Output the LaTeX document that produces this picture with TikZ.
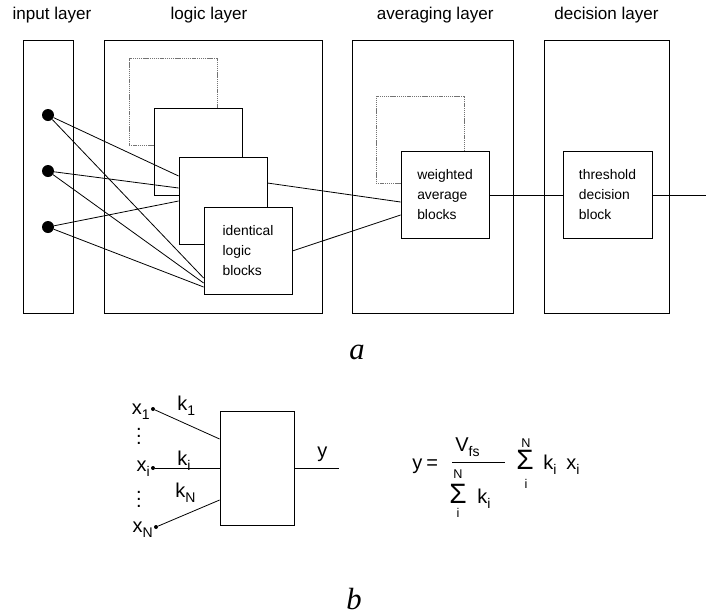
\documentclass[tikz,border=0pt]{standalone}
\usepackage{fontspec}
\setmainfont{Liberation Sans}
\newfontfamily\capfont{Liberation Serif}
\usetikzlibrary{positioning}

\newcommand{\lowidx}[1]{\raisebox{-4pt}{\fontsize{10.5}{11}\selectfont #1}}
\newcommand{\vdotsx}{\vbox{\baselineskip=5.25pt\lineskiplimit=0pt\hbox{.}\hbox{.}\hbox{.}}}

\begin{document}
\begin{tikzpicture}[
    x=0.75pt, y=-0.75pt,
    layer/.style={draw, line width=0.6pt, minimum height=204.75pt, inner sep=0pt},
    ttl/.style={font=\fontsize{12.8}{14}\selectfont, inner sep=0pt},
    blk/.style={draw, fill=white, line width=0.6pt, minimum width=66pt, minimum height=65.25pt, align=left, font=\fontsize{10.4}{15}\selectfont},
    ghost/.style={blk, draw=black!55, dash pattern=on 1pt off 0.6pt, fill=none},
    cell/.style={draw, line width=0.6pt, minimum width=55.5pt, minimum height=85.5pt, inner sep=0pt},
    pin/.style={circle, fill=black, minimum size=9pt, inner sep=0pt},
    tip/.style={circle, fill=black, minimum size=3pt, inner sep=0pt},
    lbl/.style={font=\fontsize{15}{15}\selectfont, inner sep=0pt},
    sig/.style={font=\fontsize{21}{21}\selectfont, inner sep=0pt},
    lim/.style={font=\fontsize{9.5}{10}\selectfont, inner sep=0pt},
    wire/.style={line width=0.6pt},
    capn/.style={font=\capfont\itshape\fontsize{23}{23}\selectfont, inner sep=0pt}
]
    \useasboundingbox (0,0) rectangle (706,615);

    % Layers
    \node[layer, minimum width=37.5pt] (inp) at (48,176.5) {};
    \node[layer, minimum width=163.5pt] (logic) at (213,176.5) {};
    \node[layer, minimum width=120.75pt] (avg) at (432.5,176.5) {};
    \node[layer, minimum width=93.75pt] (dec) at (606.5,176.5) {};

    % Layer titles
    \node[ttl, above=12pt of inp, xshift=3pt] (tinp) {input layer};
    \node[ttl, above=12pt of logic, xshift=-3pt] (tlogic) {logic layer};
    \node[ttl, above=12pt of avg, xshift=2pt] (tavg) {averaging layer};
    \node[ttl, above=12pt of dec] (tdec) {decision layer};

    % Inputs
    \foreach \i/\y in {1/115, 2/171, 3/227}
        \node[pin] (p\i) at (48,\y) {};

    % Logic blocks
    \node[ghost] (lb1) at (173,102) {};
    \node[blk] (lb2) at ([shift={(25,49.5)}]lb1.center) {};
    \node[blk] (lb3) at ([shift={(25,49.5)}]lb2.center) {};
    \node[blk] (lb4) at ([shift={(25,50)}]lb3.center) {identical\\logic\\blocks};

    % Averaging blocks
    \node[ghost] (ab1) at (420,139.5) {};
    \node[blk] (ab2) at ([shift={(25,55.5)}]ab1.center) {weighted\\average\\blocks};

    % Decision block
    \node[blk, minimum width=66.75pt] (thr) at (607.5,195) {threshold\\decision\\block};
    \coordinate (out) at (706,195);

    % Connections
    \foreach \i/\a/\b in {1/-25/27, 2/-13/32, 3/0/36} {
        \draw[wire] (p\i) -- ([shift={(0,\a)}]lb3.west);
        \draw[wire] (p\i) -- ([shift={(0,\b)}]lb4.west);
    }
    \draw[wire] ([shift={(0,-18)}]lb3.east) -- ([shift={(0,7)}]ab2.west);
    \draw[wire] (lb4.east) -- ([shift={(0,20)}]ab2.west);
    \draw[wire] (ab2) -- (thr);
    \draw[wire] (thr) -- (out);

    \node[capn] (capa) at (357,352) {a};

    % Single block
    \node[cell] (unit) at (257,468) {};
    \node[tip] (t1) at (153,409) {};
    \node[tip] (ti) at (153,468) {};
    \node[tip] (tN) at (156,527) {};
    \coordinate (yend) at (339,468);

    \draw[wire] (t1) -- ([shift={(0,-29)}]unit.west);
    \draw[wire] (ti) -- (unit.west);
    \draw[wire] (tN) -- ([shift={(0,32)}]unit.west);
    \draw[wire] (unit.east) -- (yend);

    % Labels
    \node[lbl, anchor=base east] (x1) at ([shift={(-3,5)}]t1) {x\lowidx{1}};
    \node[lbl, anchor=base east] (xi) at ([shift={(-3,3)}]ti) {x\lowidx{i}};
    \node[lbl, anchor=base east] (xN) at ([shift={(-3,5)}]tN) {x\lowidx{N}};
    \node[lbl] (vd1) at (139,436) {\vdotsx};
    \node[lbl] (vd2) at (139,499) {\vdotsx};
    \node[lbl, anchor=base west] (k1) at (177,410) {k\lowidx{1}};
    \node[lbl, anchor=base west] (ki) at (177,465) {k\lowidx{i}};
    \node[lbl, anchor=base west] (kN) at (175,497) {k\lowidx{N}};
    \node[lbl, anchor=base west] (ylab) at (317,457) {y};

    % Formula
    \node[lbl, anchor=base west] (eqy) at (412,469) {y\hspace{3pt}=};
    \coordinate (barl) at (452,462);
    \coordinate (barr) at (505,462);
    \draw[wire] (barl) -- (barr);
    \node[lbl, anchor=base west] (vfs) at (455,451) {V\lowidx{fs}};
    \node[sig, anchor=base west] (s1) at (449,503) {Σ};
    \node[lim] (s1n) at (458,474) {N};
    \node[lim] (s1i) at (458,513) {i};
    \node[lbl, anchor=base west] (kden) at (477,503) {k\lowidx{i}};
    \node[sig, anchor=base west] (s2) at (516,469) {Σ};
    \node[lim] (s2n) at (526,443) {N};
    \node[lim] (s2i) at (526,484) {i};
    \node[lbl, anchor=base west] (ksum) at (543,469) {k\lowidx{i}};
    \node[lbl, anchor=base west] (xsum) at (566,469) {x\lowidx{i}};

    \node[capn] (capb) at (354,599) {b};
\end{tikzpicture}
\end{document}
